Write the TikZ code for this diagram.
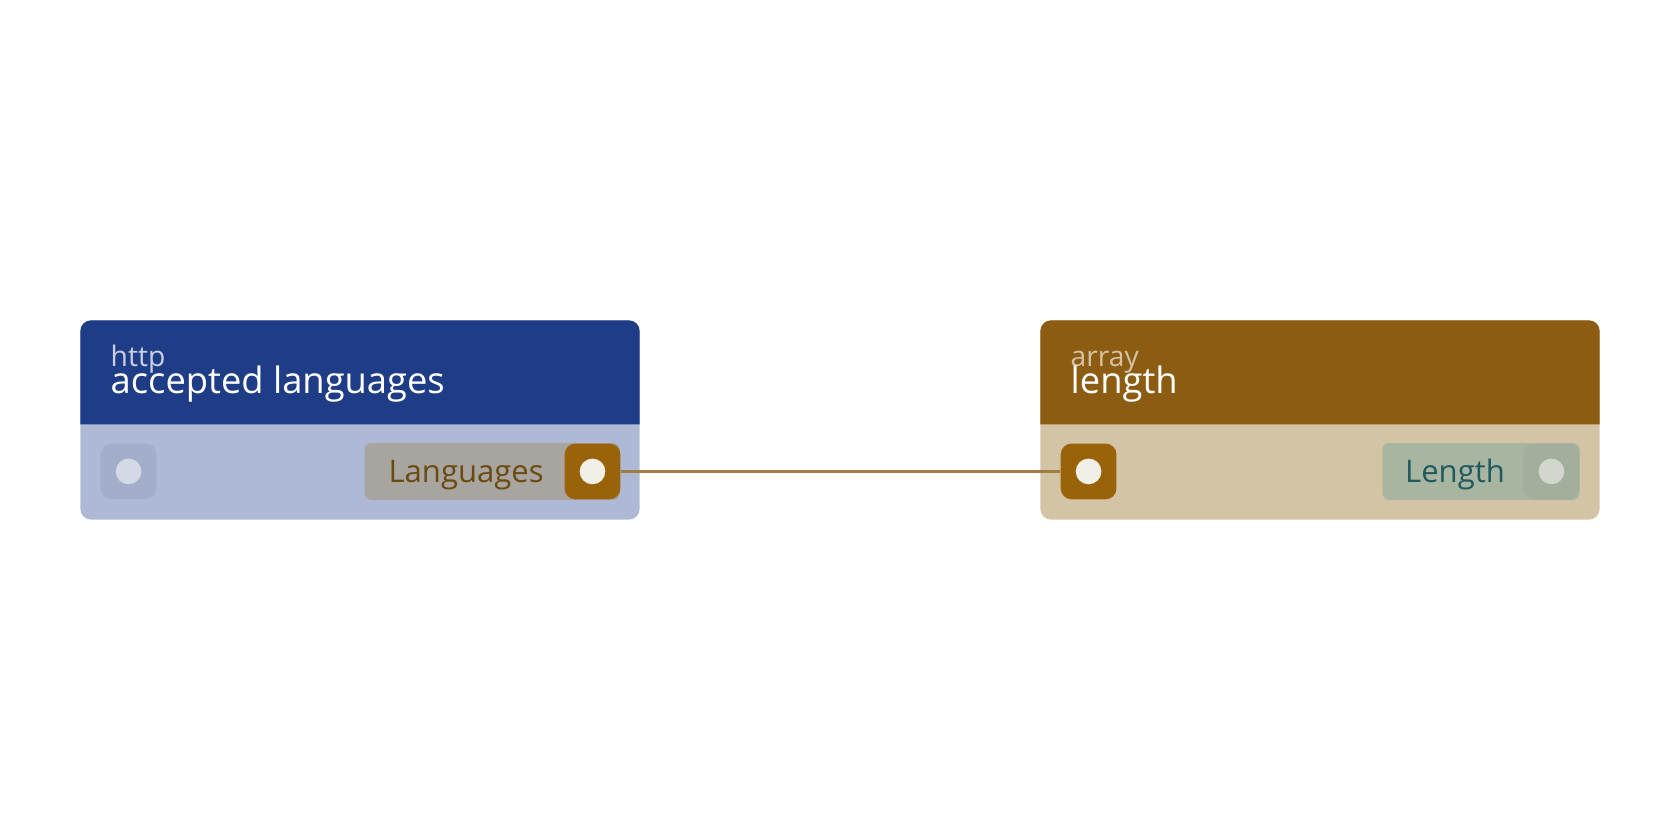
\documentclass[tikz,border=0pt]{standalone}
\usepackage{fontspec}
\setmainfont{Open Sans}
\usetikzlibrary{positioning}
\definecolor{httphead}{HTML}{1F3D87}
\definecolor{httpbody}{HTML}{AEBAD5}
\definecolor{httpport}{HTML}{A3AECA}
\definecolor{httpdot}{HTML}{D3DAE6}
\definecolor{httpcatcol}{HTML}{C8D0E4}
\definecolor{arrhead}{HTML}{8B5C12}
\definecolor{arrbody}{HTML}{D4C4A6}
\definecolor{portorange}{HTML}{9A6209}
\definecolor{portdot}{HTML}{F2EEE8}
\definecolor{wirecol}{HTML}{A07E42}
\definecolor{langfill}{HTML}{A8A49F}
\definecolor{langtext}{HTML}{6B4A10}
\definecolor{lenfill}{HTML}{A8B5A0}
\definecolor{lentext}{HTML}{1E5A60}
\definecolor{lenport}{HTML}{A3AE9C}
\definecolor{lendot}{HTML}{D3D6CC}
\begin{document}
\begin{tikzpicture}[
    x=0.02cm, y=-0.02cm,
    port/.style={rectangle, rounded corners=0.2cm, minimum width=1.04cm, minimum height=1.04cm, inner sep=0pt},
    pill/.style={rectangle, rounded corners=0.12cm, minimum height=1.06cm, inner sep=0pt},
    cat/.style={font=\fontsize{15}{15}\selectfont, anchor=base west, inner sep=0pt},
    title/.style={font=\fontsize{19.3}{20}\selectfont, text=white, anchor=base west, inner sep=0pt},
    plabel/.style={font=\fontsize{16.5}{16.5}\selectfont, anchor=base, inner sep=0pt},
    wire/.style={draw=wirecol, line width=1.7pt}
]
\useasboundingbox (0,0) rectangle (1568,784);

% Left card: http / accepted languages
\fill[httpbody, rounded corners=0.2cm] (75,299) rectangle (597,485);
\fill[httphead] (75,396) {[rounded corners=0.2cm] -- (75,299) -- (597,299)} -- (597,396) -- cycle;
\node[cat, text=httpcatcol] (httpcat) at (103,342) {http};
\node[title] (httptitle) at (103,367) {accepted languages};
\node[port, fill=httpport] (httpin) at (120,440) {};
\fill[httpdot] (httpin.center) circle (0.24cm);
\node[pill, fill=langfill, minimum width=4.76cm, anchor=west] (langpill) at (340,440) {};
\node[plabel, text=langtext] (langlabel) at (435,450) {Languages};
\node[port, fill=portorange] (langout) at (553,440) {};
\fill[portdot] (langout.center) circle (0.24cm);

% Right card: array / length
\fill[arrbody, rounded corners=0.2cm] (971,299) rectangle (1493,485);
\fill[arrhead] (971,396) {[rounded corners=0.2cm] -- (971,299) -- (1493,299)} -- (1493,396) -- cycle;
\node[cat, text=arrbody] (arrcat) at (999,342) {array};
\node[title] (arrtitle) at (999,367) {length};
\node[port, fill=portorange] (lenin) at (1016,440) {};
\fill[portdot] (lenin.center) circle (0.24cm);
\node[pill, fill=lenfill, minimum width=3.68cm, anchor=west] (lenpill) at (1290,440) {};
\node[plabel, text=lentext] (lenlabel) at (1358,450) {Length};
\node[port, fill=lenport] (lenout) at (1448,440) {};
\fill[lendot] (lenout.center) circle (0.24cm);

% Connection
\draw[wire] (langout.east) -- (lenin.west);
\end{tikzpicture}
\end{document}
